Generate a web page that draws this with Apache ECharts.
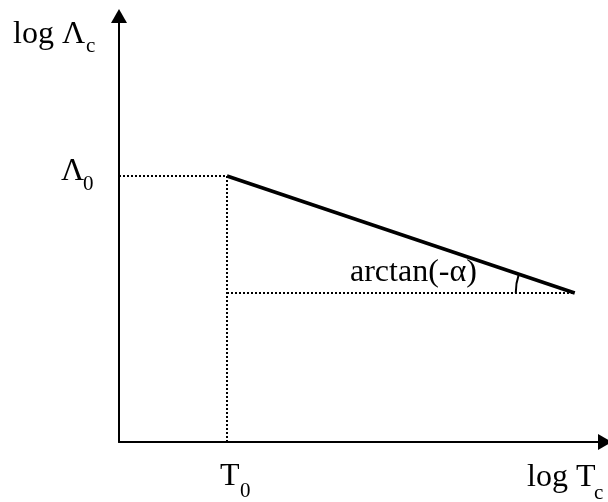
<!DOCTYPE html>
<html><head><meta charset="utf-8">
<script src="https://cdn.jsdelivr.net/npm/echarts@6/dist/echarts.min.js"></script>
<style>html,body{margin:0;padding:0;background:#fff}#c{width:608px;height:502px}</style>
</head><body><div id="c"></div>
<script>
// Schematic values (log scale, arbitrary units)
const T0 = 1.0;            // knee temperature
const Lambda0 = 2.66;      // plateau level
const endPoint = [4.22, 1.49]; // end of the sloped segment
const xRange = [0, 4.5];
const yRange = [0, 4.26];

const FONT = '"Liberation Serif", "Times New Roman", serif';
const chart = echarts.init(document.getElementById('c'), null, {renderer: 'canvas'});

const dotStyle = {color: '#000', width: 2, type: [2, 2]};

function txt(x, y, s, size) {
  return {type: 'text', x: x, y: y, style: {text: s, fill: '#000', font: size + 'px ' + FONT, verticalAlign: 'middle'}};
}

chart.setOption({
  animation: false,
  backgroundColor: '#fff',
  grid: {left: 119, right: 3, top: 16, bottom: 60},
  xAxis: {
    type: 'value', min: xRange[0], max: xRange[1],
    splitLine: {show: false}, axisTick: {show: false}, axisLabel: {show: false},
    axisLine: {show: true, onZero: false, symbol: ['none', 'triangle'], symbolSize: [16, 14], lineStyle: {color: '#000', width: 2}}
  },
  yAxis: {
    type: 'value', min: yRange[0], max: yRange[1],
    splitLine: {show: false}, axisTick: {show: false}, axisLabel: {show: false},
    axisLine: {show: true, onZero: false, symbol: ['none', 'triangle'], symbolSize: [16, 14], lineStyle: {color: '#000', width: 2}}
  },
  series: [
    {type: 'line', data: [[xRange[0], Lambda0], [T0, Lambda0]], symbol: 'none', lineStyle: dotStyle, silent: true},
    {type: 'line', data: [[T0, yRange[0]], [T0, Lambda0]], symbol: 'none', lineStyle: dotStyle, silent: true},
    {type: 'line', data: [[T0, endPoint[1]], endPoint], symbol: 'none', lineStyle: dotStyle, silent: true},
    {type: 'line', data: [[T0, Lambda0], endPoint], symbol: 'none', lineStyle: {color: '#000', width: 3.5}, silent: true, z: 5},
    {
      type: 'custom', silent: true, z: 6,
      data: [0],
      renderItem: function (params, api) {
        const c = api.coord(endPoint);
        const s = api.coord([T0, Lambda0]);
        const ang = Math.atan2(s[1] - c[1], s[0] - c[0]) + 2 * Math.PI;
        return {
          type: 'arc',
          shape: {cx: c[0], cy: c[1], r: 59, startAngle: Math.PI, endAngle: ang, clockwise: true},
          style: {stroke: '#000', lineWidth: 2, fill: null}
        };
      }
    }
  ],
  graphic: [
    txt(13, 35, 'log Λ', 32),
    txt(86, 46, 'c', 21),
    txt(61, 172, 'Λ', 32),
    txt(83, 184, '0', 21),
    txt(220, 477, 'T', 32),
    txt(240, 491, '0', 21),
    txt(527, 478, 'log T', 32),
    txt(594, 493, 'c', 21),
    txt(350, 273, 'arctan(-α)', 32)
  ]
});
</script></body></html>
